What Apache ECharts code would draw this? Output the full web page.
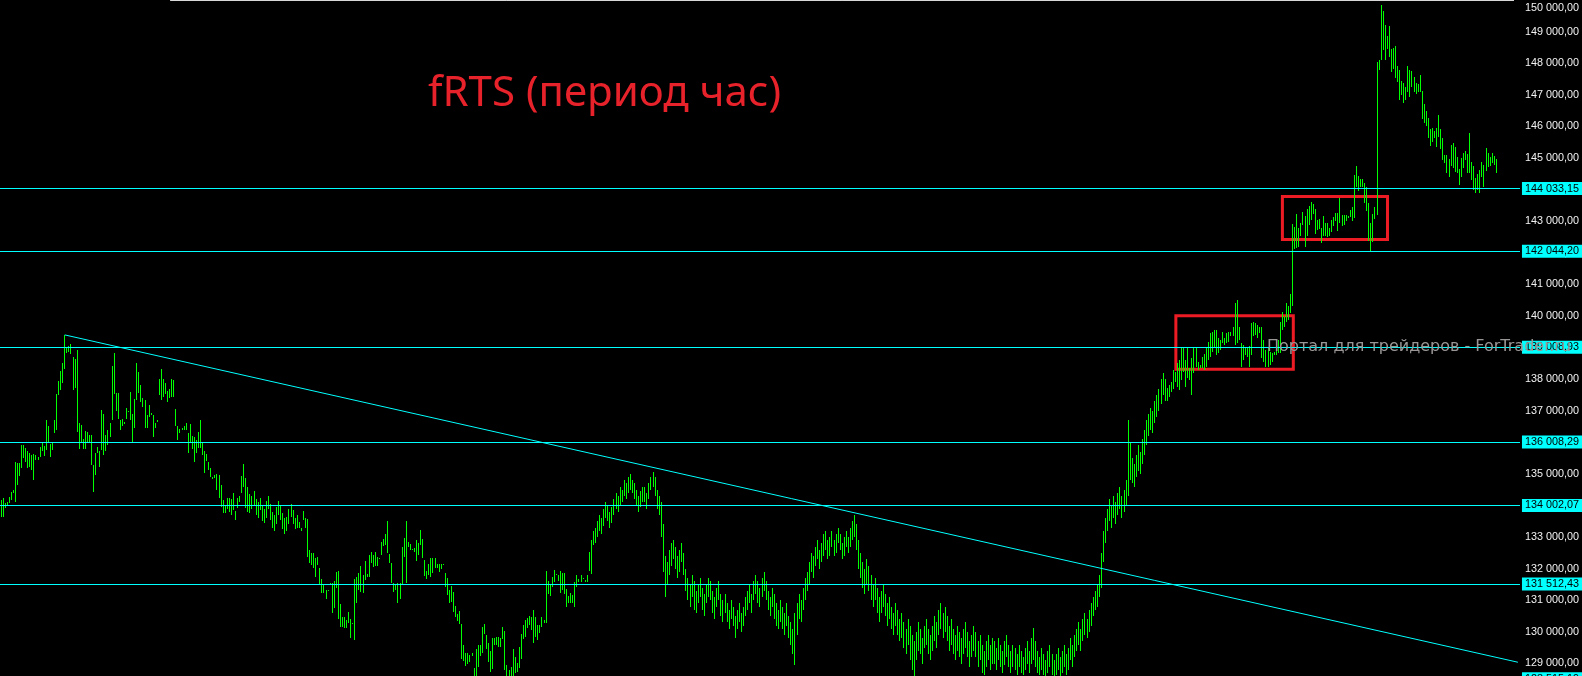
<!DOCTYPE html>
<html>
<head>
<meta charset="utf-8">
<script src="https://cdn.jsdelivr.net/npm/echarts@6/dist/echarts.min.js"></script>
<style>
html,body{margin:0;padding:0;background:#000;overflow:hidden;}
#wrap{width:1582px;height:676px;overflow:hidden;position:relative;}
#chart{width:1582px;height:686px;}
</style>
</head>
<body>
<div id="wrap"><div id="chart"></div></div>
<script>
// ---------- DATA ----------
const chartTitle = 'fRTS (период час)';
const watermark = 'Портал для трейдеров - ForTrader.ru';
// hourly bars: [high, low]
const hourBars = [
[134180,133650],[134230,133650],[134090,133910],[134120,134020],[134280,134070],[134440,134180],[134490,134390],[135390,134120],[135340,134650],[135340,134940],
[135920,135180],[135920,135490],[135810,135390],[135740,135180],[135650,135230],[135600,135130],[135630,134810],[135600,135440],[135550,135440],[135860,135550],
[136020,135710],[135880,135570],[136710,135760],[136520,135970],[135950,135550],[136020,135760],[136710,136290],[137530,136390],[137940,137500],[138260,137660],
[138520,137870],[139400,138310],[139030,138820],[139050,138870],[139110,138800],[138710,137660],[138630,137710],[138920,136340],[136620,135790],[136550,136020],
[136120,135780],[136350,135780],[136330,135970],[136230,135970],[136230,135280],[135280,134440],[135650,134970],[135860,135650],[135740,135230],[137020,135760],
[136900,135600],[136230,135710],[136390,135920],[136600,136180],[138420,136710],[138840,137530],[137550,136990],[137570,136740],[136710,136390],[136750,136520],
[136650,136580],[137080,136740],[137000,136960],[137580,136710],[136890,135990],[137360,136440],[138520,137340],[138240,137550],[137820,137290],[137390,137110],
[137340,136440],[136870,136440],[137180,136810],[136920,136870],[136870,136160],[136600,136440],[136710,136650],[137990,137500],[138310,137340],[137990,137420],
[137870,137530],[137640,137290],[137680,137390],[137990,137450],[137970,137420],[137050,136520],[136520,136070],[136410,136310],[136440,136390],[136520,136390],
[136600,136390],[136310,135650],[136580,135990],[136200,135780],[136160,135390],[136070,135670],[136340,135810],[136710,135810],[135970,135600],[135710,135020],
[135630,135410],[135390,135130],[135180,134890],[134890,134850],[134970,134860],[135000,134490],[134970,134230],[134650,133940],[134180,133750],[134020,133770],
[134230,133880],[134230,133810],[134200,133700],[134410,133860],[133840,133540],[134230,133910],[134300,134120],[134940,134390],[135310,134600],[134870,133910],
[134600,133800],[134350,133750],[134300,133900],[134450,134000],[134200,133700],[134100,133600],[134250,133850],[134000,133500],[133900,133450],[134150,133600],
[134300,133900],[134050,133550],[133800,133300],[133700,133200],[133950,133400],[134150,133700],[134000,133550],[133750,133250],[133600,133100],[133650,133200],
[133900,133400],[134050,133650],[133850,133400],[133600,133250],[133700,133300],
[133490,133280],[133280,133200],[133830,133540],[133600,133280],[133570,132360],[132590,132170],[132510,132110],[132490,132010],[132330,131750],[132380,132120],
[132010,131490],[131680,131220],[131490,131220],[131330,131040],[131330,131300],[131540,131490],[131540,130590],[131610,130750],[131910,131380],[131930,130400],
[130880,130170],[130480,130170],[130480,130110],[130380,130110],[130640,130270],[130410,129800],[130290,130250],[131680,129740],[131750,130910],[131880,131330],
[132100,131270],[131800,131240],[132240,131640],[131830,131750],[132430,131730],[132540,132170],[132430,132070],[132540,132090],[132360,132100],[132330,132300],
[132830,132430],[132930,132720],[133100,132750],[133510,132490],[132470,132170],[132190,131560],[131540,131270],[131490,131330],[131540,130930],[131540,131040],
[132700,131490],[132980,132360],[133510,131540],[132860,132700],[132770,132590],[132610,132590],[132640,132540],[132910,132260],[132800,132430],[133230,132750],
[132940,132350],[132280,131770],[131930,131660],[132150,131800],[132350,131730],[132330,131850],[132330,132010],[132150,132010],[132150,131910],[132140,131990],
[132150,132120],[131850,131410],[131720,131170],[131330,130910],[131450,130960],[131270,130640],[130820,130480],[130570,130360],[130660,130250],[130250,129140],
[129570,129090],[129340,128920],[129340,128990],[129270,129060],[129340,129240],[128870,128500],[129460,128500],[129570,128900],[129570,129240],[130150,129320],
[130250,129930],[129900,129460],[129660,129060],[129400,128740],[129820,128830],[129820,129570],[129850,129590],[129850,129530],[129800,129510],[130150,129780],
[130040,128800],[128950,128500],[128800,128500],[128880,128500],[129460,128500],[129200,128710],[129030,128740],[129530,128850],[129930,129140],[130220,129780],
[130380,129850],[130430,130110],[130500,130220],[130460,130060],[130690,129640],[130480,129830],[130220,129740],[130220,129980],[130460,130150],[130380,130270],
[131930,130290],[131620,131200],[131490,131140],[131730,131430],[131960,131590],[131830,131800],[131800,131610],[131930,131240],[131880,131330],[131850,131200],
[131350,130780],[131140,130930],[131220,130930],[131170,130930],[131590,130780],[131800,131430],[131660,131590],[131790,131590],[131700,131660],[131640,131590],
[131800,131590],[132540,131940],[132910,131830],[133190,132750],
[133300,132800],[133500,133000],[133700,133200],[133600,133100],[133900,133350],[134100,133600],[134000,133500],[133800,133300],[133950,133450],[134200,133700],[134400,133900],[134300,133800],
[134600,134000],[134500,134100],[134800,134300],[134700,134200],[134900,134400],[135000,134500],[134800,134400],[134700,134200],[134500,134000],[134300,133800],[134450,133950],[134600,134100],
[134600,134100],[134400,133900],[134700,134200],[134900,134500],[135050,134600],[134900,134300],[134500,133900],[134300,133700],[134100,133000],[133400,131900],
[132400,131100],[132200,131500],[132600,131800],[132800,132100],[132900,132300],[132700,132000],[132400,131700],[132600,131900],[132800,132200],[132500,131800],
[132000,131300],[131700,131000],[131500,130800],[131800,131100],[131600,130700],[131300,130600],[131500,130900],[131700,131100],[131400,130700],[131200,130500],
[131500,130900],[131700,131100],[131600,131000],[131300,130600],[131100,130400],[131400,130800],[131600,131000],[131200,130500],[131000,130300],[131200,130600],
[130900,130300],[130700,130100],[131000,130400],[130800,130200],[130500,129800],[130700,130100],[130900,130300],[130600,130000],[130800,130200],[131100,130500],
[131300,130700],[131500,130900],[131200,130600],[131600,131000],[131800,131200],[131600,130900],[131400,130800],[131700,131100],[131900,131300],[131600,131000],
[131300,130700],[131100,130500],[131400,130800],[131200,130400],[130900,130200],[130700,130100],[131000,130300],[130800,130100],[130600,129900],[130900,130200],
[130500,129800],[130300,129600],[130100,129300],[130600,128950],[130900,129900],[131200,130400],[131000,130300],[131400,130700],[131700,131000],[131900,131300],
[132200,131500],[132500,131900],[132400,131700],[132700,132100],[132900,132300],[132600,132000],[132800,132200],[133100,132400],[133200,132600],[132900,132300],
[133000,132400],[133200,132700],[132900,132400],[133100,132500],[133300,132800],[133100,132600],[132800,132300],[133000,132400],[133200,132700],[133000,132500],
[133300,132700],[133500,132900],[133700,133000],[133400,132600],[132900,132000],[132500,131700],[132200,131400],[132000,131200],[132300,131500],[132100,131300],
[131800,131000],[131500,130800],[131700,131000],[131400,130600],[131100,130300],[131300,130600],[131500,130800],[131200,130500],[130900,130200],[131100,130400],
[130800,130100],[130600,129900],[130900,130200],[130700,129900],[130400,129700],[130600,129800],[130300,129500],[130100,129300],[130400,129600],[130200,129100],
[129900,128800],[129700,128600],[130000,129100],[130300,129400],[130100,129300],[129800,129000],[130200,129500],[130400,129600],[130100,129300],[129900,129100],
[130200,129400],[130500,129700],[130300,129500],[130700,129900],[130900,130100],[130600,129800],[130800,130000],[130500,129700],[130200,129400],[130400,129600],
[130100,129300],[129900,129100],[130200,129400],[130000,129200],[129800,129000],[130100,129300],[130300,129500],[130000,129200],[129700,128900],[129900,129200],
[130200,129400],[130000,129200],[129700,128900],[129900,129100],[129600,128700],[129400,128650],[129700,128900],[129900,129100],[129600,128800],[129800,129000],
[129700,129000],[129500,128800],[129800,129100],[129600,128900],[129400,128700],[129700,128950],[129900,129200],[129600,128900],[129400,128700],[129600,128900],
[129500,128800],[129300,128650],[129600,128900],[129400,128700],[129200,128650],[129500,128800],[129700,129000],[129400,128700],[129800,129000],[130130,129100],
[129700,128900],[129400,128700],[129200,128650],[129500,128800],[129300,128650],[129100,128620],[129400,128700],[129600,128900],[129300,128650],[129100,128620],
[129300,128650],[129500,128800],[129200,128620],[129400,128700],[129600,128900],[129300,128650],[129500,128800],[129800,129100],[129600,128900],[129900,129200],
[130100,129400],[130300,129600],[130100,129400],[130400,129700],[130600,129900],[130400,129800],[130700,130000],[130900,130200],[131100,130500],[131300,130700],
[131500,130800],[131800,131100],[132500,131400],[133200,132200],[133600,132800],[133900,133200],[134200,133500],[134000,133300],[134300,133600],[134100,133400],
[134400,133700],[134600,133900],[134300,133600],[134500,133800],[134800,134000],[136700,134300],[136000,134800],[135500,134700],[135300,134600],[135600,134900],
[135900,135100],[135700,135000],[136100,135300],[136400,135600],[136700,135900],[136900,136200],[137100,136400],[137000,136300],[137300,136600],[137500,136800],
[137700,137000],[138000,137200],[138200,137500],[138000,137300],
[137710,137300],[137820,137450],[137920,137600],[138290,137700],[138240,137900],[138500,137760],[138610,137650],[138980,137970],[138980,138240],[138610,137760],
[138980,138030],[138340,137970],[138660,137500],[138980,138190],[138980,138400],[138550,138290],[138450,138340],[138710,138340],[138800,138290],
[138980,138400],[139190,138610],[139470,138710],[139500,138870],[139560,139030],[139540,138770],[139290,138820],[139240,138920],[139500,139130],[139290,139080],
[139450,139130],[139500,139190],[139500,139350],[139640,139350],[140420,139080],[140510,139130],[139660,139240],[139130,138400],[139080,138610],[139030,138770],
[139010,138710],[139050,138400],[139770,138770],[139800,139350],[139770,139400],[139710,139290],[139640,139450],[139660,138660],[139240,138550],
[138920,138400],[138980,138400],[138870,138450],[138820,138550],[138870,138770],[139080,138770],[139240,138820],[139820,138820],[140120,139560],[140000,139660],
[140420,139820],[140320,139870],[140700,140080],[142910,140300],[142810,142130],[143230,142150],[142770,142170],[142930,142530],[143300,142880],[143160,142190],
[143390,142530],[143480,142880],[143610,143040],[143540,143230],[143380,142590],[143040,142720],[143060,142740],[142770,142320],[143160,142530],[142930,142530],
[142950,142510],[142770,142530],[143040,142670],[143120,142850],[143260,142990],[143270,142700],[143740,142950],[143200,142850],[143200,142880],[143200,142990],
[143160,143090],[143350,143140],[143460,143020],[144460,143090],[144750,144090],[144430,143970],[144340,144070],[144330,144090],[144220,143590],[144090,143330],
[143590,142380],[142950,142070],[143230,142350],[143460,143060],[148050,143200],[148100,147790],[149840,148100],[149650,148420],[149210,148100],[148860,148440],
[149180,148210],[148440,147730],[148470,147810],[148540,147520],[147910,147420],[147790,146840],[147440,146990],[147360,146750],[147240,146840],[147910,147100],
[147790,146940],[147760,147240],[147550,147100],[147360,147030],[147340,147100],[147630,147100],[147130,146220],[146710,146120],[146490,146010],[146280,145640],
[145910,145380],[145960,145520],[145850,145640],[145940,145360],[146360,145650],[145920,145270],[145640,144940],[145090,144850],[145090,144510],[144960,144410],
[145410,144750],[145460,144670],[145360,144570],[145040,144540],[144640,144150],[144990,144410],[145150,144670],[145230,144940],[145130,144510],
[145780,144510],[144860,144300],[144750,143990],[144360,143880],[144490,143990],[144620,143880],[144880,144410],[144780,144070],[145310,144600],[145170,144730],
[145040,144750],[145150,144830],[145060,144780],[144960,144510]
];
const lastPrice = 144600.00;
const levelLines = [144033.15, 142044.20, 139008.93, 136008.29, 134002.07, 131512.43, 128515.19];
const tickValues = [129000,130000,131000,132000,133000,134000,135000,136000,137000,138000,139000,140000,141000,142000,143000,144000,145000,146000,147000,148000,149000,150000];
// trend line: [bar index, price]
const trendStart = [31, 139400];
const trendEnd = [737.5, 129040];
// boxes: [[bar index, price], [bar index, price]]
const boxes = [
  [[571.2, 140005], [628.3, 138315]],
  [[623.0, 143781], [674.1, 142420]]
];
const topEdge = [[82.2, 149985], [735.6, 149985]];

// ---------- CHART ----------
const SLOTS = 739;
const Y_MIN = 128288, Y_MAX = 150000;
const GREEN = '#00ff00', CYAN = '#00ffff', RED = '#ed1c24';
const FONT = 'Liberation Sans';

function fmt(v){
  const s = Number(v).toFixed(2);
  const parts = s.split('.');
  return parts[0].replace(/\B(?=(\d{3})+(?!\d))/g, ' ') + ',' + parts[1];
}

const seriesData = hourBars.map((b, i) => [i, b[1], b[0]]);

const chart = echarts.init(document.getElementById('chart'), null, {renderer: 'canvas'});
chart.setOption({
  backgroundColor: '#000000',
  animation: false,
  title: [
    {text: chartTitle, left: 428, top: 73, padding: 0, z: 100,
     textStyle: {color: '#e8222a', fontFamily: 'Noto Sans', fontSize: 42, fontWeight: 'normal'}},
    {text: watermark, left: 1267, top: 339, padding: 0, z: 100,
     textStyle: {color: '#9a9696', fontFamily: 'DejaVu Sans', fontSize: 16, fontWeight: 'normal'}}
  ],
  grid: {left: 0, right: 62, top: 0, bottom: 0, containLabel: false},
  xAxis: {type: 'value', min: -0.5, max: SLOTS - 0.5, show: false},
  yAxis: {
    type: 'value', position: 'right', min: Y_MIN, max: Y_MAX,
    splitLine: {show: false}, axisLine: {show: false}, axisTick: {show: false},
    axisLabel: {
      customValues: tickValues,
      color: '#f2f2f2', fontFamily: FONT, fontSize: 10.8, margin: 5,
      formatter: v => (v >= Y_MAX ? '{top|' + fmt(v) + '}' : fmt(v)),
      rich: {top: {padding: [16, 0, 0, 0], color: '#f2f2f2', fontFamily: FONT, fontSize: 10.8}}
    }
  },
  series: [{
    type: 'custom',
    data: seriesData,
    encode: {x: 0, y: [1, 2]},
    clip: false,
    renderItem: function (params, api) {
      const x = api.value(0);
      const pHi = api.coord([x, api.value(2)]);
      const pLo = api.coord([x, api.value(1)]);
      const top = Math.round(pHi[1]);
      const h = Math.max(1, Math.round(pLo[1]) - top);
      return {type: 'rect', shape: {x: Math.round(pHi[0] - 0.5), y: top, width: 1, height: h},
              style: {fill: GREEN}};
    },
    markLine: {
      silent: true, symbol: ['none', 'none'], animation: false,
      lineStyle: {color: CYAN, width: 1, type: 'solid'},
      label: {position: 'end', distance: 2, color: '#000', backgroundColor: CYAN,
              fontFamily: FONT, fontSize: 10.8, padding: [1, 4, 1, 3]},
      data: levelLines.map(v => ({yAxis: v, label: {formatter: fmt(v)}}))
        .concat([{yAxis: lastPrice, lineStyle: {opacity: 0},
                  label: {formatter: fmt(lastPrice), backgroundColor: GREEN}}])
        .concat([[{coord: trendStart, label: {show: false}}, {coord: trendEnd}]])
        .concat([[{coord: topEdge[0], lineStyle: {color: '#d8d8d8'}, label: {show: false}}, {coord: topEdge[1]}]])
    },
    markArea: {
      silent: true,
      itemStyle: {color: 'rgba(0,0,0,0)', borderColor: RED, borderWidth: 3},
      data: boxes.map(b => [{coord: b[0]}, {coord: b[1]}])
    }
  }]
});
</script>
</body>
</html>
